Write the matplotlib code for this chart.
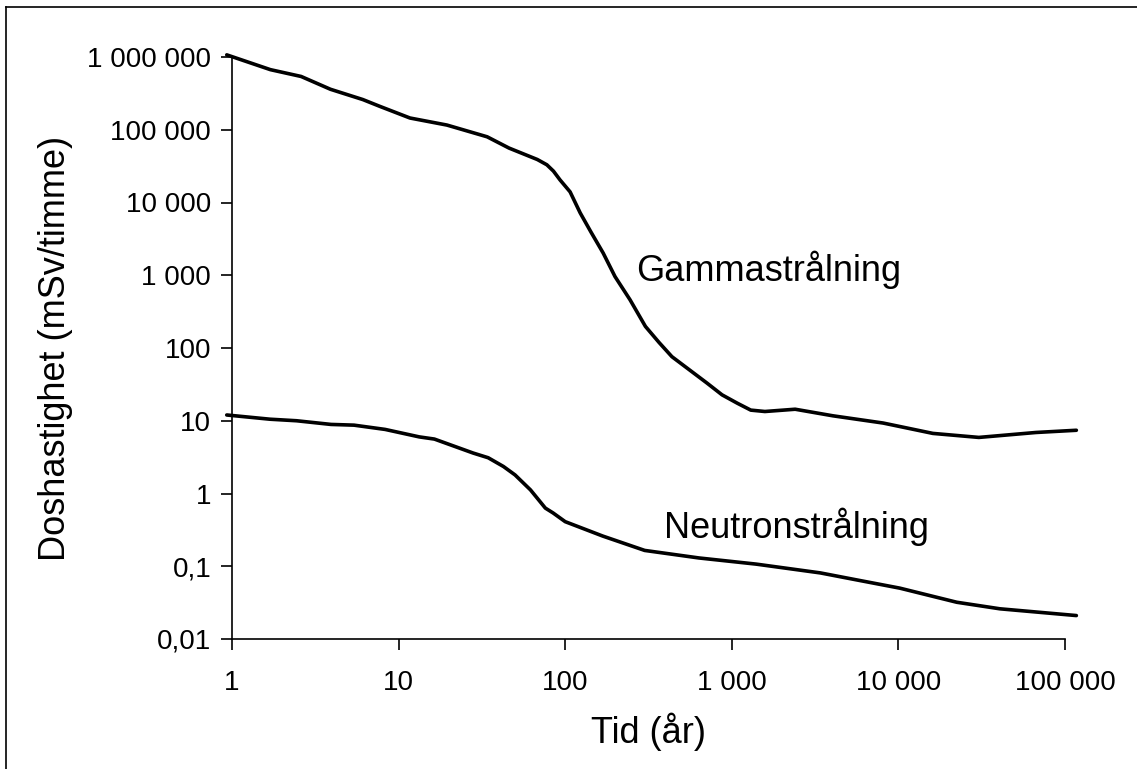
import numpy as np
import matplotlib.pyplot as plt
from matplotlib.lines import Line2D
from matplotlib.ticker import FixedLocator, FuncFormatter, NullLocator

plt.rcParams['font.family'] = ['Liberation Sans', 'DejaVu Sans']

# === Dose rate data (years, mSv/h) ===
gamma_t = [0.93, 1.7, 2.6, 3.9, 6.1, 7.7, 11.7, 19.5, 34, 46, 68, 77.6, 85, 93, 107, 123,
           143, 169, 199, 245, 303, 366, 437, 709, 874, 1080, 1300, 1580, 2400, 4040, 8100,
           16100, 30400, 67000, 117000]
gamma_dose = [1.07e6, 6.7e5, 5.4e5, 3.6e5, 2.6e5, 2.1e5, 1.45e5, 1.16e5, 8.0e4, 5.6e4, 3.9e4,
              3.3e4, 2.7e4, 2.05e4, 1.4e4, 7.2e3, 3.9e3, 2.02e3, 960, 460, 198, 119,
              76, 33, 22.7, 17.4, 14, 13.4, 14.4, 11.7, 9.3, 6.7, 5.9, 6.9, 7.4]

neutron_t = [0.93, 1.69, 2.44, 3.93, 5.4, 8.3, 13.3, 16.4, 28, 34.5, 42.6, 50, 61.9, 76, 84.6,
             100, 168, 300, 635, 1400, 3400, 5600, 10200, 22400, 40700, 117000]
neutron_dose = [12, 10.5, 10, 8.9, 8.7, 7.6, 6.0, 5.6, 3.6, 3.1, 2.35, 1.8, 1.12, 0.63, 0.54,
                0.41, 0.26, 0.165, 0.13, 0.107, 0.081, 0.065, 0.050, 0.032, 0.026, 0.021]

x_ticks = [1, 10, 100, 1000, 10000, 100000]
y_ticks = [0.01, 0.1, 1, 10, 100, 1000, 10000, 100000, 1000000]


def swedish_fmt(v, pos=None):
    # space as thousands separator, comma as decimal sign
    if v >= 1:
        return f"{int(round(v)):,}".replace(",", " ")
    return f"{v:g}".replace(".", ",")


fig = plt.figure(figsize=(11.37, 7.69), dpi=100)
ax = fig.add_axes([232 / 1137, 1 - 639 / 769, (1065 - 232) / 1137, (639 - 57) / 769])

ax.plot(gamma_t, gamma_dose, color='black', lw=2.6, clip_on=False,
        solid_joinstyle='round', solid_capstyle='round')
ax.plot(neutron_t, neutron_dose, color='black', lw=2.6, clip_on=False,
        solid_joinstyle='round', solid_capstyle='round')

ax.set_xscale('log')
ax.set_yscale('log')
ax.set_xlim(1, 100000)
ax.set_ylim(0.01, 1000000)

ax.xaxis.set_major_locator(FixedLocator(x_ticks))
ax.yaxis.set_major_locator(FixedLocator(y_ticks))
ax.xaxis.set_minor_locator(NullLocator())
ax.yaxis.set_minor_locator(NullLocator())
ax.xaxis.set_major_formatter(FuncFormatter(swedish_fmt))
ax.yaxis.set_major_formatter(FuncFormatter(swedish_fmt))

ax.spines['top'].set_visible(False)
ax.spines['right'].set_visible(False)
for side in ['left', 'bottom']:
    ax.spines[side].set_linewidth(1.2)
ax.tick_params(axis='both', direction='out', length=8, width=1.2, labelsize=20, colors='black')
ax.tick_params(axis='x', pad=14)
ax.tick_params(axis='y', pad=7)

ax.set_xlabel('Tid (år)', fontsize=26, labelpad=12)
ax.set_ylabel('Doshastighet (mSv/timme)', fontsize=26, labelpad=10)

ax.text(266, 1190, 'Gammastrålning', fontsize=26, ha='left', va='center')
ax.text(392, 0.35, 'Neutronstrålning', fontsize=26, ha='left', va='center')

# thin frame along the left and top edges of the figure
fig.add_artist(Line2D([6 / 1137, 6 / 1137], [0, 1 - 7 / 769], color='black', lw=1.2))
fig.add_artist(Line2D([6 / 1137, 1], [1 - 7 / 769, 1 - 7 / 769], color='black', lw=1.2))

fig.savefig('out.png', dpi=100)
